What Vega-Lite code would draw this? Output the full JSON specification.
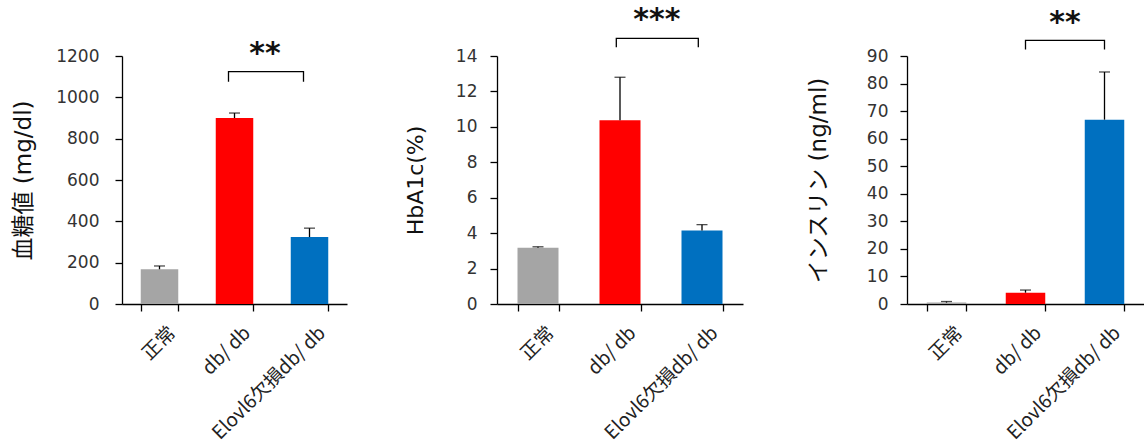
{
  "$schema": "https://vega.github.io/schema/vega-lite/v6.json",
  "padding": {"left": 12, "top": 4, "right": 0, "bottom": 0},
  "config": {
    "view": {"stroke": null},
    "axis": {"grid": false, "domainColor": "#000", "tickColor": "#000", "domainWidth": 1.3, "tickWidth": 1.3, "tickSize": 7, "labelColor": "#333", "titleColor": "#111", "titleFont": "DejaVu Sans, Noto Sans CJK JP", "titleFontSize": 22, "titleFontWeight": "normal", "labelFont": "DejaVu Sans", "labelFontSize": 17},
    "axisY": {"format": "d", "labelOverlap": false, "tickCount": 30},
    "axisX": {"labelAngle": -45, "tickBand": "extent", "labelFont": "Noto Sans CJK JP", "labelFontSize": 19, "labelColor": "#222", "labelPadding": 12, "labelOffset": 6, "title": null},
    "text": {"font": "DejaVu Sans", "fontSize": 30, "fontWeight": "bold", "color": "#111"}
  },
  "bounds": "flush",
  "spacing": 150,
  "hconcat": [
    {
      "width": 225, "height": 248,
      "data": {"values": [
        {"g": "正常", "v": 168, "hi": 184},
        {"g": "db/ db", "v": 900, "hi": 924},
        {"g": "Elovl6欠損db/ db", "v": 324, "hi": 367}
      ]},
      "layer": [
        {"mark": {"type": "bar"},
         "encoding": {
           "x": {"field": "g", "type": "nominal", "sort": null, "scale": {"domain": ["正常", "db/ db", "Elovl6欠損db/ db"], "paddingInner": 0.5, "paddingOuter": 0.25}},
           "y": {"field": "v", "type": "quantitative", "title": "血糖値 (mg/dl)", "scale": {"domain": [0, 1200], "nice": false}, "axis": {"values": [0, 200, 400, 600, 800, 1000, 1200], "labelPadding": 16, "titlePadding": 20, "titleFontSize": 23}},
           "color": {"field": "g", "type": "nominal", "scale": {"domain": ["正常", "db/ db", "Elovl6欠損db/ db"], "range": ["#A5A5A5", "#FF0000", "#0070C0"]}, "legend": null}
         }},
        {"mark": {"type": "rule", "color": "#000", "strokeWidth": 1.3},
         "encoding": {"x": {"field": "g", "type": "nominal"}, "y": {"field": "v", "type": "quantitative"}, "y2": {"field": "hi"}}},
        {"mark": {"type": "tick", "color": "#000", "size": 11, "thickness": 1.3},
         "encoding": {"x": {"field": "g", "type": "nominal"}, "y": {"field": "hi", "type": "quantitative"}}},
        {"data": {"values": [
           {"g": "db/ db", "y": 1076, "o": 1},
           {"g": "db/ db", "y": 1124, "o": 2},
           {"g": "Elovl6欠損db/ db", "y": 1124, "o": 3},
           {"g": "Elovl6欠損db/ db", "y": 1076, "o": 4}
         ]},
         "mark": {"type": "line", "color": "#000", "strokeWidth": 1.3},
         "encoding": {"x": {"field": "g", "type": "nominal", "bandPosition": 0.34}, "y": {"field": "y", "type": "quantitative"}, "order": {"field": "o"}}},
        {"data": {"values": [{"g": "db/ db", "y": 1210, "s": "**"}]},
         "mark": {"type": "text", "baseline": "middle"},
         "encoding": {"x": {"field": "g", "type": "nominal", "bandPosition": 1.31}, "y": {"field": "y", "type": "quantitative"}, "text": {"field": "s"}}}
      ]
    },
    {
      "width": 260, "height": 248,
      "data": {"values": [
        {"g": "正常", "v": 3.17, "hi": 3.23},
        {"g": "db/ db", "v": 10.37, "hi": 12.8},
        {"g": "Elovl6欠損db/ db", "v": 4.15, "hi": 4.48}
      ]},
      "layer": [
        {"mark": {"type": "bar"},
         "encoding": {
           "x": {"field": "g", "type": "nominal", "sort": null, "scale": {"domain": ["正常", "db/ db", "Elovl6欠損db/ db"], "range": [0, 246], "paddingInner": 0.5, "paddingOuter": 0.25}},
           "y": {"field": "v", "type": "quantitative", "title": "HbA1c(%)", "scale": {"domain": [0, 14], "nice": false}, "axis": {"values": [0, 2, 4, 6, 8, 10, 12, 14], "labelPadding": 13, "titlePadding": 28}},
           "color": {"field": "g", "type": "nominal", "scale": {"domain": ["正常", "db/ db", "Elovl6欠損db/ db"], "range": ["#A5A5A5", "#FF0000", "#0070C0"]}, "legend": null}
         }},
        {"mark": {"type": "rule", "color": "#000", "strokeWidth": 1.3},
         "encoding": {"x": {"field": "g", "type": "nominal"}, "y": {"field": "v", "type": "quantitative"}, "y2": {"field": "hi"}}},
        {"mark": {"type": "tick", "color": "#000", "size": 11, "thickness": 1.3},
         "encoding": {"x": {"field": "g", "type": "nominal"}, "y": {"field": "hi", "type": "quantitative"}}},
        {"data": {"values": [
           {"g": "db/ db", "y": 14.5, "o": 1},
           {"g": "db/ db", "y": 15.0, "o": 2},
           {"g": "Elovl6欠損db/ db", "y": 15.0, "o": 3},
           {"g": "Elovl6欠損db/ db", "y": 14.5, "o": 4}
         ]},
         "mark": {"type": "line", "color": "#000", "strokeWidth": 1.3},
         "encoding": {"x": {"field": "g", "type": "nominal", "bandPosition": 0.41}, "y": {"field": "y", "type": "quantitative"}, "order": {"field": "o"}}},
        {"data": {"values": [{"g": "db/ db", "y": 16.04, "s": "***"}]},
         "mark": {"type": "text", "baseline": "middle"},
         "encoding": {"x": {"field": "g", "type": "nominal", "bandPosition": 1.4}, "y": {"field": "y", "type": "quantitative"}, "text": {"field": "s"}}}
      ]
    },
    {
      "width": 237, "height": 248,
      "data": {"values": [
        {"g": "正常", "v": 0.5, "hi": 0.9},
        {"g": "db/ db", "v": 4.1, "hi": 5.06},
        {"g": "Elovl6欠損db/ db", "v": 66.9, "hi": 84.2}
      ]},
      "layer": [
        {"mark": {"type": "bar"},
         "encoding": {
           "x": {"field": "g", "type": "nominal", "sort": null, "scale": {"domain": ["正常", "db/ db", "Elovl6欠損db/ db"], "paddingInner": 0.5, "paddingOuter": 0.25}},
           "y": {"field": "v", "type": "quantitative", "title": "インスリン (ng/ml)", "scale": {"domain": [0, 90], "nice": false}, "axis": {"values": [0, 10, 20, 30, 40, 50, 60, 70, 80, 90], "labelPadding": 12, "titlePadding": 36, "titleFontSize": 23}},
           "color": {"field": "g", "type": "nominal", "scale": {"domain": ["正常", "db/ db", "Elovl6欠損db/ db"], "range": ["#A5A5A5", "#FF0000", "#0070C0"]}, "legend": null}
         }},
        {"mark": {"type": "rule", "color": "#000", "strokeWidth": 1.3},
         "encoding": {"x": {"field": "g", "type": "nominal"}, "y": {"field": "v", "type": "quantitative"}, "y2": {"field": "hi"}}},
        {"mark": {"type": "tick", "color": "#000", "size": 11, "thickness": 1.3},
         "encoding": {"x": {"field": "g", "type": "nominal"}, "y": {"field": "hi", "type": "quantitative"}}},
        {"data": {"values": [
           {"g": "db/ db", "y": 92.4, "o": 1},
           {"g": "db/ db", "y": 95.7, "o": 2},
           {"g": "Elovl6欠損db/ db", "y": 95.7, "o": 3},
           {"g": "Elovl6欠損db/ db", "y": 92.4, "o": 4}
         ]},
         "mark": {"type": "line", "color": "#000", "strokeWidth": 1.3},
         "encoding": {"x": {"field": "g", "type": "nominal", "bandPosition": 0.5}, "y": {"field": "y", "type": "quantitative"}, "order": {"field": "o"}}},
        {"data": {"values": [{"g": "db/ db", "y": 102, "s": "**"}]},
         "mark": {"type": "text", "baseline": "middle"},
         "encoding": {"x": {"field": "g", "type": "nominal", "bandPosition": 1.5}, "y": {"field": "y", "type": "quantitative"}, "text": {"field": "s"}}}
      ]
    }
  ]
}
